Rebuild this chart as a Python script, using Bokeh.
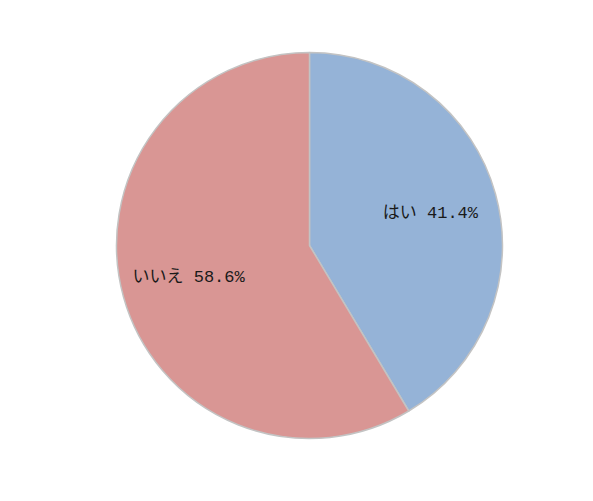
import math
from bokeh.plotting import figure
from bokeh.models import ColumnDataSource, Range1d
from bokeh.core.properties import value
from bokeh.embed import file_html
from bokeh.resources import INLINE

categories = ["はい", "いいえ"]
percents = [41.4, 58.6]
colors = ["#95b3d7", "#d99694"]

W, H = 577, 485
cx, cy, r = 309, 240, 193

starts, ends, lx, ly, labels = [], [], [], [], []
cum = 0.0
for c, v in zip(categories, percents):
    a0 = math.pi / 2 - cum / 100 * 2 * math.pi
    cum += v
    a1 = math.pi / 2 - cum / 100 * 2 * math.pi
    starts.append(a0)
    ends.append(a1)
    mid = (a0 + a1) / 2
    lx.append(cx + 0.65 * r * math.cos(mid))
    ly.append(cy + 0.63 * r * math.sin(mid))
    labels.append(f"{c} {v:.1f}%")

src = ColumnDataSource(dict(start=starts, end=ends, color=colors,
                            lx=lx, ly=ly, label=labels))

p = figure(width=W, height=H, output_backend="svg", toolbar_location=None,
           x_range=Range1d(0, W), y_range=Range1d(0, H), min_border=0)
p.axis.visible = False
p.grid.visible = False
p.outline_line_color = None
p.background_fill_color = "white"

p.wedge(x=cx, y=cy, radius=r, start_angle="start", end_angle="end",
        direction="clock", fill_color="color", line_color="#c3c3c3",
        line_width=1.5, source=src)

p.text(x="lx", y="ly", text="label", source=src, text_align="center",
       text_baseline="middle",
       text_font=value("Liberation Mono, Noto Sans CJK JP"),
       text_font_size="17px", text_color="#1a1a1a")

open("out.html", "w").write(file_html(p, INLINE))
